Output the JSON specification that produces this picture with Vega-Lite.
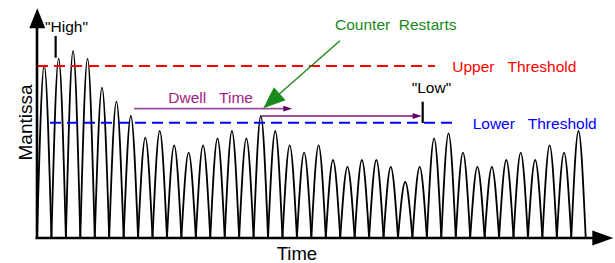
{
  "$schema": "https://vega.github.io/schema/vega-lite/v6.json",
  "width": 615,
  "height": 263,
  "padding": 0,
  "autosize": "none",
  "background": "white",
  "config": {"view": {"stroke": null}, "text": {"font": "Liberation Sans"}},
  "datasets": {
    "arches": [
      {"a":1,"t":0,"v":0},{"a":1,"t":0.5,"v":172.7},{"a":1,"t":1,"v":0},
      {"a":2,"t":1,"v":0},{"a":2,"t":1.5,"v":179.3},{"a":2,"t":2,"v":0},
      {"a":3,"t":2,"v":0},{"a":3,"t":2.5,"v":187},{"a":3,"t":3,"v":0},
      {"a":4,"t":3,"v":0},{"a":4,"t":3.5,"v":179.3},{"a":4,"t":4,"v":0},
      {"a":5,"t":4,"v":0},{"a":5,"t":4.5,"v":150.3},{"a":5,"t":5,"v":0},
      {"a":6,"t":5,"v":0},{"a":6,"t":5.5,"v":136.3},{"a":6,"t":6,"v":0},
      {"a":7,"t":6,"v":0},{"a":7,"t":6.5,"v":122},{"a":7,"t":7,"v":0},
      {"a":8,"t":7,"v":0},{"a":8,"t":7.5,"v":100.3},{"a":8,"t":8,"v":0},
      {"a":9,"t":8,"v":0},{"a":9,"t":8.5,"v":107},{"a":9,"t":9,"v":0},
      {"a":10,"t":9,"v":0},{"a":10,"t":9.5,"v":92.7},{"a":10,"t":10,"v":0},
      {"a":11,"t":10,"v":0},{"a":11,"t":10.5,"v":85.3},{"a":11,"t":11,"v":0},
      {"a":12,"t":11,"v":0},{"a":12,"t":11.5,"v":92.7},{"a":12,"t":12,"v":0},
      {"a":13,"t":12,"v":0},{"a":13,"t":12.5,"v":99.7},{"a":13,"t":13,"v":0},
      {"a":14,"t":13,"v":0},{"a":14,"t":13.5,"v":107},{"a":14,"t":14,"v":0},
      {"a":15,"t":14,"v":0},{"a":15,"t":14.5,"v":99.7},{"a":15,"t":15,"v":0},
      {"a":16,"t":15,"v":0},{"a":16,"t":15.5,"v":122},{"a":16,"t":16,"v":0},
      {"a":17,"t":16,"v":0},{"a":17,"t":16.5,"v":107},{"a":17,"t":17,"v":0},
      {"a":18,"t":17,"v":0},{"a":18,"t":17.5,"v":92.7},{"a":18,"t":18,"v":0},
      {"a":19,"t":18,"v":0},{"a":19,"t":18.5,"v":85.3},{"a":19,"t":19,"v":0},
      {"a":20,"t":19,"v":0},{"a":20,"t":19.5,"v":92.7},{"a":20,"t":20,"v":0},
      {"a":21,"t":20,"v":0},{"a":21,"t":20.5,"v":78},{"a":21,"t":21,"v":0},
      {"a":22,"t":21,"v":0},{"a":22,"t":21.5,"v":71},{"a":22,"t":22,"v":0},
      {"a":23,"t":22,"v":0},{"a":23,"t":22.5,"v":78},{"a":23,"t":23,"v":0},
      {"a":24,"t":23,"v":0},{"a":24,"t":23.5,"v":78},{"a":24,"t":24,"v":0},
      {"a":25,"t":24,"v":0},{"a":25,"t":24.5,"v":71},{"a":25,"t":25,"v":0},
      {"a":26,"t":25,"v":0},{"a":26,"t":25.5,"v":56},{"a":26,"t":26,"v":0},
      {"a":27,"t":26,"v":0},{"a":27,"t":26.5,"v":71},{"a":27,"t":27,"v":0},
      {"a":28,"t":27,"v":0},{"a":28,"t":27.5,"v":99.7},{"a":28,"t":28,"v":0},
      {"a":29,"t":28,"v":0},{"a":29,"t":28.5,"v":104.7},{"a":29,"t":29,"v":0},
      {"a":30,"t":29,"v":0},{"a":30,"t":29.5,"v":85.3},{"a":30,"t":30,"v":0},
      {"a":31,"t":30,"v":0},{"a":31,"t":30.5,"v":71},{"a":31,"t":31,"v":0},
      {"a":32,"t":31,"v":0},{"a":32,"t":31.5,"v":71},{"a":32,"t":32,"v":0},
      {"a":33,"t":32,"v":0},{"a":33,"t":32.5,"v":78},{"a":33,"t":33,"v":0},
      {"a":34,"t":33,"v":0},{"a":34,"t":33.5,"v":85.3},{"a":34,"t":34,"v":0},
      {"a":35,"t":34,"v":0},{"a":35,"t":34.5,"v":78},{"a":35,"t":35,"v":0},
      {"a":36,"t":35,"v":0},{"a":36,"t":35.5,"v":92.7},{"a":36,"t":36,"v":0},
      {"a":37,"t":36,"v":0},{"a":37,"t":36.5,"v":85.3},{"a":37,"t":37,"v":0},
      {"a":38,"t":37,"v":0},{"a":38,"t":37.5,"v":107},{"a":38,"t":38,"v":0}
    ],
    "thresholds": [
      {"c":"upper","t":0,"t2":27.56,"v":172},
      {"c":"lower","t":0.9,"t2":29.09,"v":115.3}
    ],
    "segs": [
      {"kind":"axis","c":"ink","t":-0.1,"t2":38.57,"v":0,"v2":0},
      {"kind":"axis","c":"ink","t":0,"t2":0,"v":-1,"v2":211},
      {"kind":"pointer","c":"ink","t":1.29,"t2":1.29,"v":202,"v2":180.3},
      {"kind":"pointer","c":"ink","t":26.71,"t2":26.71,"v":136.3,"v2":115},
      {"kind":"dwell","c":"dwellLine","t":6.72,"t2":17.1,"v":129.3,"v2":129.3},
      {"kind":"dwell","c":"dwellLine","t":15.56,"t2":26.1,"v":122,"v2":122},
      {"kind":"counter","c":"green","t":20.98,"t2":15.99,"v":197.3,"v2":134}
    ],
    "heads": [
      {"kind":"xaxis","t":39.91,"v":0},
      {"kind":"yaxis","t":0.02,"v":229.7},
      {"kind":"counter","t":15.67,"v":129.7},
      {"kind":"dwell","t":17.68,"v":129.3},
      {"kind":"dwell","t":26.64,"v":122}
    ],
    "notes": [
      {"label":"\"High\"","t":0.554,"v":205.7,"c":"ink"},
      {"label":"\"Low\"","t":25.95,"v":145.3,"c":"ink"},
      {"label":"Upper\u00a0\u00a0\u00a0Threshold","t":28.76,"v":166.3,"c":"upper"},
      {"label":"Lower\u00a0\u00a0\u00a0Threshold","t":30.17,"v":108.7,"c":"lower"},
      {"label":"Dwell\u00a0\u00a0\u00a0Time","t":9.09,"v":134.7,"c":"dwell"},
      {"label":"Counter\u00a0\u00a0Restarts","t":20.64,"v":208,"c":"green"}
    ],
    "titles": [
      {"label":"Time","t":16.6,"v":-22.2,"rot":0},
      {"label":"Mantissa","t":-0.367,"v":115.5,"rot":1}
    ]
  },
  "encoding": {
    "x": {"field":"t","type":"quantitative","scale":{"domain":[-2.562,40.028],"nice":false,"zero":false},"axis":null},
    "y": {"field":"v","type":"quantitative","scale":{"domain":[-25,238],"nice":false,"zero":false},"axis":null}
  },
  "layer": [
    {
      "data": {"name":"arches"},
      "mark": {"type":"line","interpolate":"natural","color":"#000000","strokeWidth":1.8},
      "encoding": {"detail": {"field":"a","type":"nominal"}}
    },
    {
      "data": {"name":"thresholds"},
      "mark": {"type":"rule","strokeWidth":2,"strokeDash":[11,6]},
      "encoding": {
        "x2": {"field":"t2"},
        "color": {"field":"c","type":"nominal","scale":{"domain":["ink","upper","lower","dwell","dwellLine","dwellHead","green"],"range":["#000000","#ff0000","#0000ff","#a3227f","#9a4e9a","#660066","#1a8a1a"]},"legend":null}
      }
    },
    {
      "data": {"name":"segs"},
      "mark": {"type":"rule"},
      "encoding": {
        "x2": {"field":"t2"},
        "y2": {"field":"v2"},
        "size": {"field":"kind","type":"ordinal","scale":{"domain":["axis","pointer","dwell","counter"],"range":[2.6,1.4,2,2.5]},"legend":null},
        "color": {"field":"c","type":"nominal","scale":{"domain":["ink","upper","lower","dwell","dwellLine","dwellHead","green"],"range":["#000000","#ff0000","#0000ff","#a3227f","#9a4e9a","#660066","#1a8a1a"]},"legend":null}
      }
    },
    {
      "data": {"name":"heads"},
      "transform": [{"filter":"datum.kind === 'xaxis'"}],
      "mark": {"type":"point","filled":true,"opacity":1,"strokeWidth":0,"color":"#000000","shape":"M0,0L-1,-0.36L-1,0.36Z","size":1764}
    },
    {
      "data": {"name":"heads"},
      "transform": [{"filter":"datum.kind === 'yaxis'"}],
      "mark": {"type":"point","filled":true,"opacity":1,"strokeWidth":0,"color":"#000000","shape":"M0,0L-0.4,1L0.4,1Z","size":1600}
    },
    {
      "data": {"name":"heads"},
      "transform": [{"filter":"datum.kind === 'counter'"}],
      "mark": {"type":"point","filled":true,"opacity":1,"strokeWidth":0,"color":"#1a8a1a","shape":"M0,0L-0.4,1L0.4,1Z","size":1936,"angle":228.5}
    },
    {
      "data": {"name":"heads"},
      "transform": [{"filter":"datum.kind === 'dwell'"}],
      "mark": {"type":"point","filled":true,"opacity":1,"strokeWidth":0,"color":"#660066","shape":"M0,0L-1,-0.32L-1,0.32Z","size":324}
    },
    {
      "data": {"name":"notes"},
      "mark": {"type":"text","align":"left","baseline":"alphabetic","fontSize":15.5,"font":"Liberation Sans"},
      "encoding": {
        "text": {"field":"label"},
        "color": {"field":"c","type":"nominal","scale":{"domain":["ink","upper","lower","dwell","dwellLine","dwellHead","green"],"range":["#000000","#ff0000","#0000ff","#a3227f","#9a4e9a","#660066","#1a8a1a"]},"legend":null}
      }
    },
    {
      "data": {"name":"titles"},
      "transform": [{"filter":"datum.rot === 0"}],
      "mark": {"type":"text","align":"left","baseline":"alphabetic","fontSize":18.5,"font":"Liberation Sans","color":"#000000"},
      "encoding": {"text": {"field":"label"}}
    },
    {
      "data": {"name":"titles"},
      "transform": [{"filter":"datum.rot === 1"}],
      "mark": {"type":"text","align":"center","baseline":"alphabetic","fontSize":19,"font":"Liberation Sans","color":"#000000","angle":270},
      "encoding": {"text": {"field":"label"}}
    }
  ]
}
